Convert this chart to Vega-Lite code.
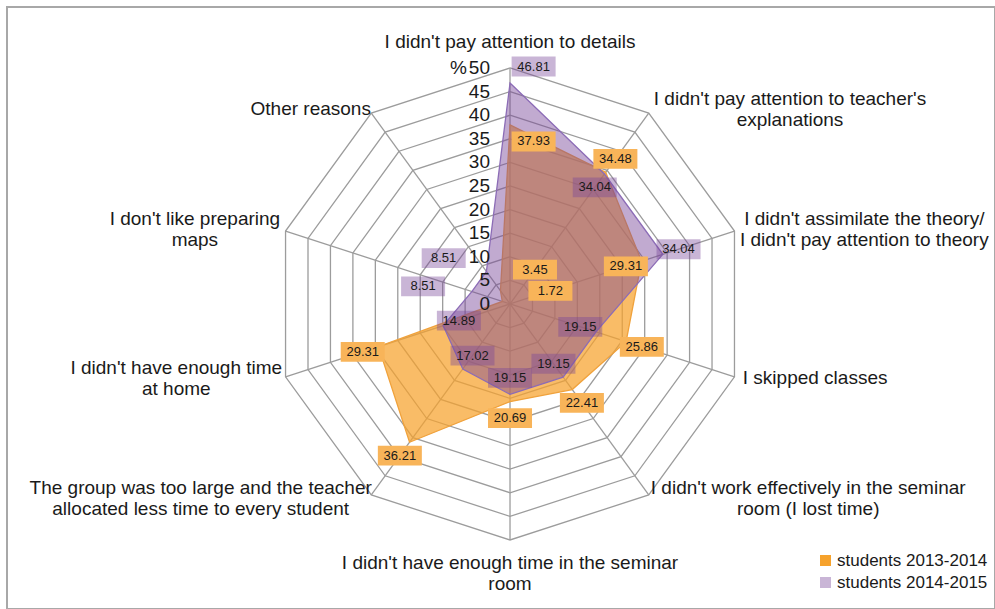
{
  "$schema": "https://vega.github.io/schema/vega-lite/v6.json",
  "autosize": {"type": "none"},
  "padding": {"left": 7, "top": 7, "right": 0, "bottom": 0},
  "width": 988,
  "height": 602,
  "background": "white",
  "config": {
    "view": {"stroke": "#a8a8a8", "strokeWidth": 2},
    "font": "Liberation Sans",
    "text": {"font": "Liberation Sans", "color": "#1a1a1a"}
  },
  "datasets": {
    "cats": [
      {"i": 0, "label": ["I didn't pay attention to details"], "students 2013-2014": 37.93, "students 2014-2015": 46.81},
      {"i": 1, "label": ["I didn't pay attention to teacher's", "explanations"], "students 2013-2014": 34.48, "students 2014-2015": 34.04},
      {"i": 2, "label": ["I didn't assimilate the theory/", "I didn't pay attention to theory"], "students 2013-2014": 29.31, "students 2014-2015": 34.04},
      {"i": 3, "label": ["I skipped classes"], "students 2013-2014": 25.86, "students 2014-2015": 19.15},
      {"i": 4, "label": ["I didn't work effectively in the seminar", "room (I lost time)"], "students 2013-2014": 22.41, "students 2014-2015": 19.15},
      {"i": 5, "label": ["I didn't have enough time in the seminar", "room"], "students 2013-2014": 20.69, "students 2014-2015": 19.15},
      {"i": 6, "label": ["The group was too large and the teacher", "allocated less time to every student"], "students 2013-2014": 36.21, "students 2014-2015": 17.02},
      {"i": 7, "label": ["I didn't have enough time", "at home"], "students 2013-2014": 29.31, "students 2014-2015": 14.89},
      {"i": 8, "label": ["I don't like preparing", "maps"], "students 2013-2014": 1.72, "students 2014-2015": 8.51},
      {"i": 9, "label": ["Other reasons"], "students 2013-2014": 3.45, "students 2014-2015": 8.51}
    ],
    "ticks": [
      {"t": 0}, {"t": 5}, {"t": 10}, {"t": 15}, {"t": 20}, {"t": 25},
      {"t": 30}, {"t": 35}, {"t": 40}, {"t": 45}, {"t": 50}
    ]
  },
  "layer": [
    {
      "data": {"name": "ticks"},
      "transform": [{"filter": "datum.t > 0"}],
      "mark": {
        "type": "point",
        "shape": "M0,-1L0.5878,-0.809L0.9511,-0.309L0.9511,0.309L0.5878,0.809L0,1L-0.5878,0.809L-0.9511,0.309L-0.9511,-0.309L-0.5878,-0.809Z",
        "filled": false,
        "stroke": "#9c9c9c",
        "strokeWidth": 1.3,
        "opacity": 1
      },
      "encoding": {
        "x": {"datum": 0, "type": "quantitative", "scale": {"domain": [-106.57, 102.75], "nice": false, "zero": false}, "axis": null},
        "y": {"datum": 0, "type": "quantitative", "scale": {"domain": [-64.62, 62.92], "nice": false, "zero": false}, "axis": null},
        "size": {"field": "t", "type": "quantitative", "scale": {"type": "pow", "exponent": 2, "domain": [0, 50], "range": [0, 222784]}, "legend": null}
      }
    },
    {
      "data": {"name": "cats"},
      "transform": [
        {"calculate": "datum.i * PI / 5", "as": "a"},
        {"calculate": "50 * sin(datum.a)", "as": "sx"},
        {"calculate": "50 * cos(datum.a)", "as": "sy"}
      ],
      "mark": {"type": "rule", "stroke": "#9c9c9c", "strokeWidth": 1.3},
      "encoding": {
        "x": {"field": "sx", "type": "quantitative"},
        "y": {"field": "sy", "type": "quantitative"},
        "x2": {"datum": 0},
        "y2": {"datum": 0}
      }
    },
    {
      "data": {"name": "cats"},
      "transform": [
        {"fold": ["students 2013-2014", "students 2014-2015"], "as": ["series", "v"]},
        {"calculate": "datum.i * PI / 5", "as": "a"},
        {"calculate": "datum.v * sin(datum.a)", "as": "x"},
        {"calculate": "datum.v * cos(datum.a)", "as": "y"}
      ],
      "mark": {"type": "line", "interpolate": "linear-closed", "strokeWidth": 1.3},
      "encoding": {
        "x": {"field": "x", "type": "quantitative"},
        "y": {"field": "y", "type": "quantitative"},
        "order": {"field": "i", "type": "quantitative"},
        "fill": {
          "field": "series", "type": "nominal",
          "scale": {"domain": ["students 2013-2014", "students 2014-2015"], "range": ["#F6A22C", "#774599"]},
          "legend": {"orient": "none", "legendX": 810, "legendY": 545, "title": null, "symbolType": "square", "symbolSize": 121, "symbolOpacity": 0.62, "labelFontSize": 17, "labelFont": "Liberation Sans", "labelColor": "#1a1a1a", "labelOffset": 3, "rowPadding": 4, "symbolStrokeWidth": 0}
        },
        "fillOpacity": {
          "field": "series", "type": "nominal",
          "scale": {"domain": ["students 2013-2014", "students 2014-2015"], "range": [0.72, 0.46]},
          "legend": null
        },
        "stroke": {
          "field": "series", "type": "nominal",
          "scale": {"domain": ["students 2013-2014", "students 2014-2015"], "range": ["#F0A23C", "#8C6CB6"]},
          "legend": null
        }
      }
    },
    {
      "data": {"name": "cats"},
      "transform": [
        {"fold": ["students 2013-2014", "students 2014-2015"], "as": ["series", "v"]},
        {"calculate": "datum.i * PI / 5", "as": "a"},
        {"calculate": "datum.v >= max(datum['students 2013-2014'], datum['students 2014-2015'])", "as": "big"},
        {"calculate": "datum.big ? datum.v + 3.5 : datum.v - 3.5", "as": "lr"},
        {"calculate": "sin(datum.a) > 0.01 ? 1 : (sin(datum.a) < -0.01 ? -1 : 0)", "as": "sg"},
        {"calculate": "(!datum.big && datum.lr < 2) ? 9 * abs(sin(datum.a)) : datum.lr * sin(datum.a) + (datum.big ? datum.sg * max(0, 22 - datum.lr) * 0.7 : 0) + (abs(sin(datum.a)) < 0.01 && cos(datum.a) > 0 ? 5 : 0)", "as": "x"},
        {"calculate": "(!datum.big && datum.lr < 2) ? 9 * cos(datum.a) : datum.lr * cos(datum.a)", "as": "y"}
      ],
      "mark": {"type": "point", "shape": "M-1,-0.45H1V0.45H-1Z", "size": 1936, "filled": true, "strokeWidth": 0},
      "encoding": {
        "x": {"field": "x", "type": "quantitative"},
        "y": {"field": "y", "type": "quantitative"},
        "color": {"field": "series", "type": "nominal", "scale": {"domain": ["students 2013-2014", "students 2014-2015"], "range": ["#F8B459", "#774599"]}, "legend": null},
        "opacity": {"field": "series", "type": "nominal", "scale": {"domain": ["students 2013-2014", "students 2014-2015"], "range": [1, 0.4]}, "legend": null}
      }
    },
    {
      "data": {"name": "cats"},
      "transform": [
        {"fold": ["students 2013-2014", "students 2014-2015"], "as": ["series", "v"]},
        {"calculate": "datum.i * PI / 5", "as": "a"},
        {"calculate": "datum.v >= max(datum['students 2013-2014'], datum['students 2014-2015'])", "as": "big"},
        {"calculate": "datum.big ? datum.v + 3.5 : datum.v - 3.5", "as": "lr"},
        {"calculate": "sin(datum.a) > 0.01 ? 1 : (sin(datum.a) < -0.01 ? -1 : 0)", "as": "sg"},
        {"calculate": "(!datum.big && datum.lr < 2) ? 9 * abs(sin(datum.a)) : datum.lr * sin(datum.a) + (datum.big ? datum.sg * max(0, 22 - datum.lr) * 0.7 : 0) + (abs(sin(datum.a)) < 0.01 && cos(datum.a) > 0 ? 5 : 0)", "as": "x"},
        {"calculate": "(!datum.big && datum.lr < 2) ? 9 * cos(datum.a) : datum.lr * cos(datum.a)", "as": "y"}
      ],
      "mark": {"type": "text", "fontSize": 13, "font": "Liberation Sans", "color": "#1a1a1a"},
      "encoding": {
        "x": {"field": "x", "type": "quantitative"},
        "y": {"field": "y", "type": "quantitative"},
        "text": {"field": "v", "type": "quantitative", "format": ".2f"}
      }
    },
    {
      "data": {"name": "ticks"},
      "mark": {"type": "text", "align": "right", "baseline": "middle", "dx": -20, "fontSize": 19, "font": "Liberation Sans", "color": "#1a1a1a"},
      "encoding": {
        "x": {"datum": 0, "type": "quantitative"},
        "y": {"field": "t", "type": "quantitative"},
        "text": {"field": "t", "type": "quantitative"}
      }
    },
    {
      "data": {"values": [{"unit": "%"}]},
      "mark": {"type": "text", "align": "right", "baseline": "middle", "dx": -43, "fontSize": 19, "font": "Liberation Sans", "color": "#1a1a1a"},
      "encoding": {
        "x": {"datum": 0, "type": "quantitative"},
        "y": {"datum": 50, "type": "quantitative"},
        "text": {"field": "unit", "type": "nominal"}
      }
    },
    {
      "data": {"name": "cats"},
      "transform": [
        {"calculate": "datum.i * PI / 5", "as": "a"},
        {"calculate": "abs(sin(datum.a)) < 0.01 ? 0 : (sin(datum.a) > 0 ? 1 : -1)", "as": "side"},
        {"calculate": "0.56 * length(datum.label[0]) - 0.29 * (length(datum.label[0]) - length(replace(datum.label[0], regexp(\"[ilIjtfr ./()'-]\", \"g\"), '')))", "as": "w0"},
        {"calculate": "datum.label.length > 1 ? 0.56 * length(datum.label[1]) - 0.29 * (length(datum.label[1]) - length(replace(datum.label[1], regexp(\"[ilIjtfr ./()'-]\", \"g\"), ''))) : 0", "as": "w1"},
        {"calculate": "datum.side == 0 ? (cos(datum.a) > 0 ? 55.6 : 57) : 51", "as": "r"},
        {"calculate": "datum.r * sin(datum.a) + datum.side * max(datum.w0, datum.w1) * 2.0", "as": "x"},
        {"calculate": "datum.r * cos(datum.a) + (datum.label.length - 1) * 2.2", "as": "y"}
      ],
      "mark": {"type": "text", "align": "center", "baseline": "middle", "fontSize": 19, "lineHeight": 21, "font": "Liberation Sans", "color": "#1a1a1a"},
      "encoding": {
        "x": {"field": "x", "type": "quantitative"},
        "y": {"field": "y", "type": "quantitative"},
        "text": {"field": "label", "type": "nominal"}
      }
    }
  ]
}
